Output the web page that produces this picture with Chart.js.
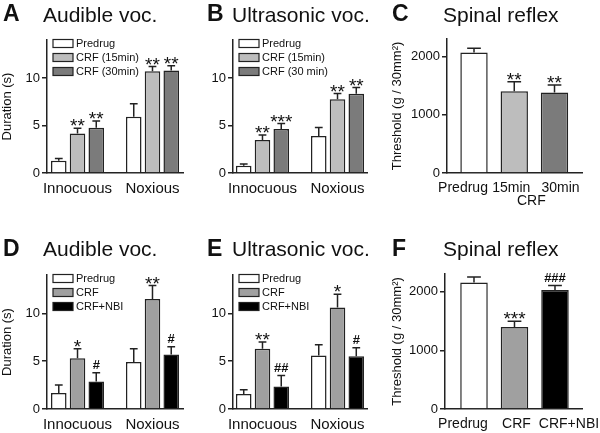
<!DOCTYPE html>
<html>
<head>
<meta charset="utf-8">
<script src="https://cdn.jsdelivr.net/npm/chart.js@4"></script>
<style>
body { margin: 0; background: #fff; }
#fig { position: relative; width: 600px; height: 433px; overflow: hidden; font-family: "Liberation Sans", Arial, sans-serif; color: #111; }
#fig canvas { position: absolute; }
.lt { position: absolute; font-weight: bold; font-size: 23px; line-height: 23px; }
.tt { position: absolute; font-size: 21px; line-height: 21px; white-space: nowrap; }
</style>
</head>
<body>
<div id="fig">
  <canvas id="chA" width="200" height="216" style="left:0;top:0"></canvas>
  <canvas id="chB" width="200" height="216" style="left:200px;top:0"></canvas>
  <canvas id="chC" width="210" height="216" style="left:390px;top:0"></canvas>
  <canvas id="chD" width="200" height="217" style="left:0;top:216px"></canvas>
  <canvas id="chE" width="200" height="217" style="left:200px;top:216px"></canvas>
  <canvas id="chF" width="210" height="217" style="left:390px;top:216px"></canvas>

  <div class="lt" style="left:3px;top:2px">A</div>
  <div class="tt" style="left:43px;top:4px">Audible voc.</div>
  <div class="lt" style="left:207px;top:2px">B</div>
  <div class="tt" style="left:232px;top:4px">Ultrasonic voc.</div>
  <div class="lt" style="left:392px;top:2px">C</div>
  <div class="tt" style="left:443px;top:4px">Spinal reflex</div>
  <div class="lt" style="left:3px;top:237px">D</div>
  <div class="tt" style="left:43px;top:238px">Audible voc.</div>
  <div class="lt" style="left:207px;top:237px">E</div>
  <div class="tt" style="left:232px;top:238px">Ultrasonic voc.</div>
  <div class="lt" style="left:392px;top:237px">F</div>
  <div class="tt" style="left:443px;top:238px">Spinal reflex</div>
</div>
<script>
// ---- data ----
const groups = ['Innocuous', 'Noxious'];
const durTicks = [0, 5, 10];
const thrTicks = [0, 1000, 2000];

// A  audible voc., predrug vs CRF 15 / 30 min
const audPre = [1.29, 5.92];
const audPreErr = [0.24, 1.38];
const audCrf15 = [4.15, 10.7];
const audCrf15Err = [0.55, 0.5];
const audCrf30 = [4.77, 10.8];
const audCrf30Err = [0.7, 0.5];
const audCrf15Sig = ['**', '**'];
const audCrf30Sig = ['**', '**'];

// B  ultrasonic voc.
const usvPre = [0.77, 3.9];
const usvPreErr = [0.17, 0.9];
const usvCrf15 = [3.48, 7.77];
const usvCrf15Err = [0.52, 0.59];
const usvCrf30 = [4.63, 8.33];
const usvCrf30Err = [0.57, 0.67];
const usvCrf15Sig = ['**', '**'];
const usvCrf30Sig = ['***', '**'];

// C  spinal reflex threshold
const reflexLabels = ['Predrug', '15min', '30min'];
const reflexVals = [2068, 1403, 1380];
const reflexErr = [74, 165, 131];
const reflexSig = ['', '**', '**'];

// D  audible voc., CRF and CRF+NBI
const audNPre = [1.67, 4.9];
const audNPreErr = [0.83, 1.4];
const audNCrf = [5.3, 11.5];
const audNCrfErr = [1.0, 1.4];
const audNNbi = [2.88, 5.7];
const audNNbiErr = [0.92, 0.8];
const audNCrfSig = ['*', '**'];
const audNNbiSig = ['#', '#'];

// E  ultrasonic voc., CRF and CRF+NBI
const usvNPre = [1.56, 5.6];
const usvNPreErr = [0.44, 1.1];
const usvNCrf = [6.3, 10.6];
const usvNCrfErr = [0.7, 1.4];
const usvNNbi = [2.36, 5.5];
const usvNNbiErr = [1.14, 0.9];
const usvNCrfSig = ['**', '*'];
const usvNNbiSig = ['##', '#'];

// F  spinal reflex, CRF and CRF+NBI
const reflexNLabels = ['Predrug', 'CRF', 'CRF+NBI'];
const reflexNVals = [2154, 1396, 2028];
const reflexNErr = [96, 97, 75];
const reflexNSig = ['', '***', '###'];

// ---- styling ----
const FONT = '"Liberation Sans", Arial, sans-serif';
const INK = '#222';
const WHITE = '#ffffff';
const GREY_L = '#bdbdbd';
const GREY_D = '#7b7b7b';
const GREY_M = '#a0a0a0';
const BLACK = '#000000';

// error bars (upper half only) and significance marks
const errorBars = {
  id: 'errorBars',
  afterDatasetsDraw(chart) {
    const ctx = chart.ctx;
    const ys = chart.scales.y;
    chart.data.datasets.forEach((ds, i) => {
      chart.getDatasetMeta(i).data.forEach((bar, j) => {
        const top = ys.getPixelForValue(ds.data[j] + ds.err[j]);
        const half = bar.width * 0.25;
        ctx.save();
        ctx.strokeStyle = INK;
        ctx.lineWidth = 1.5;
        ctx.beginPath();
        ctx.moveTo(bar.x, bar.y);
        ctx.lineTo(bar.x, top);
        ctx.moveTo(bar.x - half, top);
        ctx.lineTo(bar.x + half, top);
        ctx.stroke();
        const m = ds.sig && ds.sig[j];
        if (m) {
          ctx.fillStyle = '#111';
          ctx.textAlign = 'center';
          ctx.textBaseline = 'alphabetic';
          if (m[0] === '#') {
            ctx.font = 'bold 13px ' + FONT;
            ctx.fillText(m, bar.x, top - 4);
          } else {
            ctx.font = '19px ' + FONT;
            ctx.fillText(m, bar.x, top + 4);
          }
        }
        ctx.restore();
      });
    });
  }
};

// legend drawn inside the plot, top left
const innerLegend = {
  id: 'innerLegend',
  afterDraw(chart) {
    if (chart.data.datasets.length < 2) return;
    const ctx = chart.ctx;
    const { left, top } = chart.chartArea;
    chart.data.datasets.forEach((ds, i) => {
      const cy = top + 3.5 + i * 14;
      ctx.save();
      ctx.fillStyle = ds.backgroundColor;
      ctx.fillRect(left + 6, cy - 4, 20, 8);
      ctx.strokeStyle = INK;
      ctx.lineWidth = 1.2;
      ctx.strokeRect(left + 6, cy - 4, 20, 8);
      ctx.fillStyle = '#111';
      ctx.font = '11px ' + FONT;
      ctx.textAlign = 'left';
      ctx.textBaseline = 'middle';
      ctx.fillText(ds.label, left + 29, cy + 0.5);
      ctx.restore();
    });
  }
};

// "CRF" under 15min / 30min in panel C
const crfUnder = {
  id: 'crfUnder',
  afterDraw(chart) {
    const xs = chart.scales.x;
    const ctx = chart.ctx;
    const x = (xs.getPixelForValue(1) + xs.getPixelForValue(2)) / 2 - 3;
    ctx.save();
    ctx.fillStyle = '#111';
    ctx.font = '14px ' + FONT;
    ctx.textAlign = 'center';
    ctx.textBaseline = 'alphabetic';
    ctx.fillText('CRF', x, xs.top + 32);
    ctx.restore();
  }
};

// nudge individual x labels sideways (the original spreads them apart)
function labelNudge(shifts) {
  return {
    id: 'labelNudge',
    beforeDraw(chart) {
      const items = chart.scales.x.getLabelItems();
      items.forEach((it, i) => {
        if (!it._nudged) {
          it.options.translation[0] += shifts[i] || 0;
          it._nudged = true;
        }
      });
    }
  };
}

function panel(id, cfg) {
  return new Chart(document.getElementById(id), {
    type: 'bar',
    data: { labels: cfg.labels, datasets: cfg.datasets },
    options: {
      responsive: false,
      animation: false,
      events: [],
      layout: { padding: cfg.pad },
      plugins: { legend: { display: false }, tooltip: { enabled: false } },
      datasets: {
        bar: {
          categoryPercentage: cfg.cp,
          barPercentage: cfg.bp,
          borderColor: INK,
          borderWidth: 1.5
        }
      },
      scales: {
        x: {
          z: 1,
          grid: { display: false, drawTicks: false },
          border: { color: INK, width: 1.5 },
          ticks: { color: '#111', font: { family: FONT, size: cfg.xfs || 15 }, padding: 7, maxRotation: 0, autoSkip: false },
          afterFit: s => { s.height = cfg.xh; },
          afterBuildTicks: s => {
            s._startValue = cfg.xr[0];
            s._valueRange = cfg.xr[1] - cfg.xr[0];
          }
        },
        y: {
          min: 0,
          max: cfg.ymax,
          grid: { drawOnChartArea: false, drawTicks: true, tickLength: 5, color: INK, lineWidth: 1.5 },
          border: { color: INK, width: 1.5 },
          ticks: { color: '#111', font: { family: FONT, size: 13 }, padding: 2, callback: v => String(v) },
          afterBuildTicks: s => { s.ticks = cfg.yticks.map(v => ({ value: v })); },
          afterFit: s => { s.width = cfg.yw; },
          title: cfg.ytitle
            ? { display: true, text: cfg.ytitle, color: '#111', font: { family: FONT, size: 13 }, padding: { top: 0, bottom: 0 } }
            : { display: false }
        }
      }
    },
    plugins: [errorBars, innerLegend].concat(cfg.extra || [])
  });
}

const bar = (label, data, err, color, sig) => ({ label, data, err, sig, backgroundColor: color });

panel('chA', {
  labels: groups,
  datasets: [
    bar('Predrug', audPre, audPreErr, WHITE),
    bar('CRF (15min)', audCrf15, audCrf15Err, GREY_L, audCrf15Sig),
    bar('CRF (30min)', audCrf30, audCrf30Err, GREY_D, audCrf30Sig)
  ],
  pad: { left: 0, right: 17, top: 40, bottom: 0 }, yw: 47, xh: 43,
  xr: [-0.407, 1.407], cp: 0.75, bp: 0.83,
  ymax: 14, yticks: durTicks, ytitle: 'Duration (s)'
});

panel('chB', {
  labels: groups,
  datasets: [
    bar('Predrug', usvPre, usvPreErr, WHITE),
    bar('CRF (15min)', usvCrf15, usvCrf15Err, GREY_L, usvCrf15Sig),
    bar('CRF (30 min)', usvCrf30, usvCrf30Err, GREY_D, usvCrf30Sig)
  ],
  pad: { left: 0, right: 33, top: 40, bottom: 0 }, yw: 33, xh: 43,
  xr: [-0.393, 1.393], cp: 0.75, bp: 0.83,
  ymax: 14, yticks: durTicks
});

panel('chC', {
  labels: reflexLabels,
  datasets: [
    bar('Threshold', reflexVals, reflexErr, [WHITE, GREY_L, GREY_D], reflexSig)
  ],
  pad: { left: 0, right: 18, top: 39, bottom: 0 }, yw: 57, xh: 43, xfs: 14,
  xr: [-0.671, 2.683], cp: 1, bp: 0.68,
  ymax: 2300, yticks: thrTicks, ytitle: 'Threshold (g / 30mm²)',
  extra: [crfUnder, labelNudge([-11, -3, 6])]
});

panel('chD', {
  labels: groups,
  datasets: [
    bar('Predrug', audNPre, audNPreErr, WHITE),
    bar('CRF', audNCrf, audNCrfErr, GREY_M, audNCrfSig),
    bar('CRF+NBI', audNNbi, audNNbiErr, BLACK, audNNbiSig)
  ],
  pad: { left: 0, right: 17, top: 59, bottom: 0 }, yw: 47, xh: 24,
  xr: [-0.407, 1.407], cp: 0.75, bp: 0.83,
  ymax: 14, yticks: durTicks, ytitle: 'Duration (s)'
});

panel('chE', {
  labels: groups,
  datasets: [
    bar('Predrug', usvNPre, usvNPreErr, WHITE),
    bar('CRF', usvNCrf, usvNCrfErr, GREY_M, usvNCrfSig),
    bar('CRF+NBI', usvNNbi, usvNNbiErr, BLACK, usvNNbiSig)
  ],
  pad: { left: 0, right: 33, top: 59, bottom: 0 }, yw: 33, xh: 24,
  xr: [-0.393, 1.393], cp: 0.75, bp: 0.83,
  ymax: 14, yticks: durTicks
});

panel('chF', {
  labels: reflexNLabels,
  datasets: [
    bar('Threshold', reflexNVals, reflexNErr, [WHITE, GREY_M, BLACK], reflexNSig)
  ],
  pad: { left: 0, right: 18, top: 58, bottom: 0 }, yw: 55, xh: 24, xfs: 14,
  xr: [-0.716, 2.667], cp: 1, bp: 0.68,
  ymax: 2300, yticks: thrTicks, ytitle: 'Threshold (g / 30mm²)',
  extra: [labelNudge([-11, 2, 14])]
});
</script>
</body>
</html>
